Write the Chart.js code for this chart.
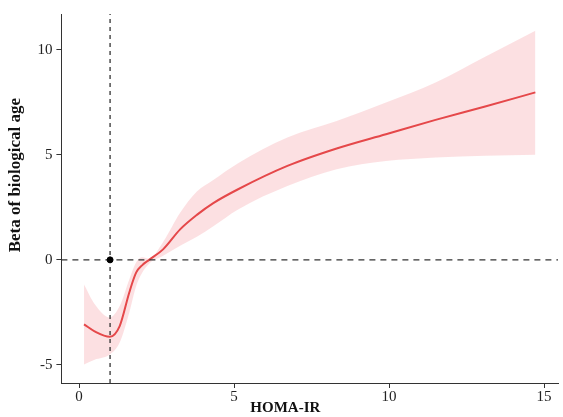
<!DOCTYPE html>
<html>
<head>
<meta charset="utf-8">
<script src="https://cdn.jsdelivr.net/npm/chart.js@4/dist/chart.umd.min.js"></script>
<style>
  html, body { margin: 0; padding: 0; background: #fff; }
  #wrap { width: 563px; height: 417px; }
</style>
</head>
<body>
<div id="wrap"><canvas id="rcsChart"></canvas></div>
<script>
    'use strict';

    // HOMA-IR values along the fitted curve
    const homaIr = [0.16, 0.5, 0.99, 1.31, 1.62, 1.84, 2.04, 2.26, 2.71, 3.26, 3.8, 4.33, 5.13, 6.72, 8.31, 9.9, 11.5, 13.1, 14.72];
    // beta estimate and 95% CI bounds
    const beta = [-3.07, -3.4, -3.66, -3.15, -1.55, -0.61, -0.25, 0.0, 0.5, 1.45, 2.14, 2.7, 3.36, 4.47, 5.3, 5.98, 6.66, 7.3, 7.97];
    const upperCi = [-1.17, -2.1, -2.74, -2.2, -0.93, -0.12, 0.12, 0.05, 0.85, 2.24, 3.25, 3.8, 4.6, 5.82, 6.61, 7.49, 8.44, 9.66, 10.9];
    const lowerCi = [-4.98, -4.75, -4.5, -3.93, -2.5, -1.25, -0.6, -0.18, 0.19, 0.67, 1.1, 1.6, 2.4, 3.51, 4.31, 4.7, 4.87, 4.95, 5.0];

    const refX = 1;
    const refY = 0;
    const xTicks = [0, 5, 10, 15];
    const yTicks = [-5, 0, 5, 10];
    const xMin = -0.57, xMax = 15.45;
    const yMin = -5.86, yMax = 11.7;

    function toPoints(ys) {
        return homaIr.map(function(x, i) { return { x: x, y: ys[i] }; });
    }

    const serif = "'Liberation Serif', 'Times New Roman', serif";
    const axisColor = '#333333';

    new Chart(document.getElementById('rcsChart'), {
        type: 'line',
        data: {
            datasets: [
                {
                    // CI band: filled to the lower bound
                    data: toPoints(upperCi),
                    order: 10,
                    borderWidth: 0,
                    pointRadius: 0,
                    fill: '+1',
                    backgroundColor: 'rgba(252, 222, 224, 0.95)',
                    cubicInterpolationMode: 'monotone'
                },
                {
                    data: toPoints(lowerCi),
                    order: 11,
                    borderWidth: 0,
                    pointRadius: 0,
                    fill: false,
                    cubicInterpolationMode: 'monotone'
                },
                {
                    data: toPoints(beta),
                    order: 3,
                    borderColor: '#e5484a',
                    borderWidth: 2,
                    pointRadius: 0,
                    fill: false,
                    cubicInterpolationMode: 'monotone'
                },
                {
                    data: [{ x: xMin, y: refY }, { x: xMax, y: refY }],
                    order: 2,
                    borderColor: '#333',
                    borderWidth: 1.3,
                    borderDash: [6, 5],
                    pointRadius: 0,
                    fill: false
                },
                {
                    data: [{ x: refX, y: yMin }, { x: refX, y: yMax }],
                    order: 2,
                    borderColor: '#333',
                    borderWidth: 1.3,
                    borderDash: [4, 4],
                    pointRadius: 0,
                    fill: false
                },
                {
                    data: [{ x: refX, y: refY }],
                    order: 1,
                    showLine: false,
                    pointRadius: 3,
                    pointBackgroundColor: '#000',
                    pointBorderColor: '#000'
                }
            ]
        },
        options: {
            responsive: true,
            maintainAspectRatio: false,
            animation: false,
            layout: { padding: { top: 14, right: 0, left: 5, bottom: 0 } },
            plugins: {
                legend: { display: false },
                tooltip: { enabled: false }
            },
            scales: {
                x: {
                    type: 'linear',
                    min: xMin,
                    max: xMax,
                    afterBuildTicks: function(s) { s.ticks = xTicks.map(function(v) { return { value: v }; }); },
                    afterFit: function(s) { s.height = 34; },
                    grid: { display: true, drawOnChartArea: false, drawTicks: true, tickLength: 5, color: axisColor },
                    border: { display: true, color: axisColor, width: 1 },
                    ticks: { color: '#222', font: { family: serif, size: 15 }, padding: 0, maxRotation: 0 },
                    // trailing spaces nudge the title left, as in the original
                    title: { display: true, text: 'HOMA-IR' + ' '.repeat(13), color: '#111', font: { family: serif, size: 15, weight: 'bold' }, padding: { top: 0, bottom: 0 } }
                },
                y: {
                    type: 'linear',
                    min: yMin,
                    max: yMax,
                    afterBuildTicks: function(s) { s.ticks = yTicks.map(function(v) { return { value: v }; }); },
                    grid: { display: true, drawOnChartArea: false, drawTicks: true, tickLength: 5, color: axisColor },
                    border: { display: true, color: axisColor, width: 1 },
                    ticks: { color: '#222', font: { family: serif, size: 15 }, padding: 4 },
                    title: { display: true, text: ' '.repeat(11) + 'Beta of biological age', color: '#111', font: { family: serif, size: 17, weight: 'bold' }, padding: { top: 0, bottom: 8 } }
                }
            }
        }
    });
</script>
</body>
</html>
